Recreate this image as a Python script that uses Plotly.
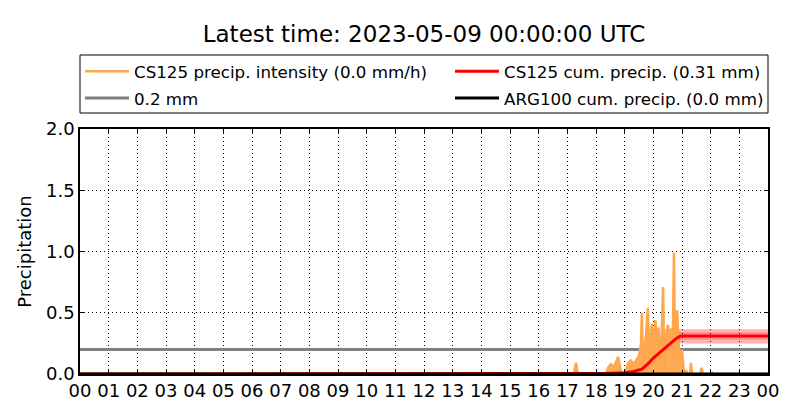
import plotly.graph_objects as go

# Orange: CS125 precipitation intensity (hours of day, mm/h)
int_hours = [0, 17.23, 17.30, 17.37, 18.35, 18.42, 18.52, 18.63, 18.77, 18.87, 19.01, 19.12, 19.22, 19.32,
             19.43, 19.50, 19.57, 19.60, 19.64, 19.67, 19.74, 19.81, 19.85, 19.88, 19.95, 20.0, 20.02, 20.07,
             20.13, 20.18, 20.23, 20.28, 20.34, 20.38, 20.41, 20.46, 20.51, 20.56, 20.62, 20.67, 20.72,
             20.76, 20.79, 20.83, 20.88, 20.93, 21.00, 21.07, 21.14, 21.21, 21.28, 21.31, 21.35, 21.63,
             21.68, 21.73, 22.01, 22.05, 22.08, 24]
int_values = [0, 0, 0.09, 0, 0, 0.05, 0.08, 0.06, 0.14, 0.02, 0, 0.09, 0.11, 0.08,
              0.12, 0.15, 0.25, 0.50, 0.05, 0.18, 0.30, 0.54, 0.10, 0.25, 0.41, 0.06, 0.20, 0.44,
              0.30, 0.38, 0.08, 0.25, 0.71, 0.05, 0.20, 0.35, 0.40, 0.30, 0.37, 0.15, 0.99,
              0.10, 0.30, 0.52, 0.25, 0.10, 0.20, 0.0, 0.03, 0, 0, 0.09, 0, 0,
              0.05, 0, 0, 0.01, 0, 0]

# Red: CS125 cumulative precipitation (mm)
cum_hours = [0, 17.0, 18.3, 19.0, 19.3, 19.6, 19.8, 20.0, 20.2, 20.4, 20.6, 20.8, 20.95, 24]
cum_values = [0, 0, 0.005, 0.01, 0.02, 0.04, 0.08, 0.13, 0.17, 0.21, 0.25, 0.29, 0.31, 0.31]

# Uncertainty band for cumulative precip
band_hours = [20.9, 24]
band_outer_low = [0.25, 0.25]
band_outer_high = [0.365, 0.365]
band_inner_low = [0.28, 0.28]
band_inner_high = [0.34, 0.34]

# Black: ARG100 cumulative precipitation
arg_hours = [0, 24]
arg_values = [0, 0]

# Gray: 0.2 mm reference
ref_hours = [0, 24]
ref_values = [0.2, 0.2]

tick_vals = list(range(25))
tick_text = ["%02d" % (h % 24) for h in range(25)]

FONT = "DejaVu Sans"
W, H = 792, 412          # page body has an 8px margin
ML, MR, MT, MB = 72, 32, 121, 46
PLOT_H = H - MT - MB
PLOT_W = W - ML - MR
ORANGE = "#ffa64d"

fig = go.Figure()

fig.add_trace(go.Scatter(x=ref_hours, y=ref_values, mode="lines",
                         line=dict(color="#808080", width=3),
                         name="0.2 mm", legend="legend", legendgroup="g2"))

fig.add_trace(go.Scatter(x=int_hours, y=int_values, mode="lines",
                         line=dict(color=ORANGE, width=0),
                         fill="tozeroy", fillcolor="rgba(255,166,77,0.95)",
                         showlegend=False, hoverinfo="skip"))
fig.add_trace(go.Scatter(x=int_hours, y=int_values, mode="lines",
                         line=dict(color=ORANGE, width=2.5),
                         name="CS125 precip. intensity (0.0 mm/h)", legend="legend",
                         legendgroup="g1", legendrank=1))

for lo, hi, op in [(band_outer_low, band_outer_high, 0.3), (band_inner_low, band_inner_high, 0.2)]:
    fig.add_trace(go.Scatter(x=band_hours, y=lo, mode="lines", line=dict(width=0),
                             showlegend=False, hoverinfo="skip"))
    fig.add_trace(go.Scatter(x=band_hours, y=hi, mode="lines", line=dict(width=0),
                             fill="tonexty", fillcolor="rgba(255,0,0,%s)" % op,
                             showlegend=False, hoverinfo="skip"))

fig.add_trace(go.Scatter(x=cum_hours, y=cum_values, mode="lines",
                         line=dict(color="#ff0000", width=3),
                         name="CS125 cum. precip. (0.31 mm)", legend="legend2",
                         legendgroup="g3", legendrank=1))

fig.add_trace(go.Scatter(x=arg_hours, y=arg_values, mode="lines",
                         line=dict(color="#000000", width=3),
                         name="ARG100 cum. precip. (0.0 mm)", legend="legend2",
                         legendgroup="g4", legendrank=2))

# legend frame (page y 55..113 -> figure y 47..105)
leg_top = (H - MB - 47) / PLOT_H
leg_bot = (H - MB - 105) / PLOT_H
fig.add_shape(type="rect", xref="paper", yref="paper", x0=0, x1=1, y0=leg_bot, y1=leg_top,
              line=dict(color="black", width=1), fillcolor="rgba(0,0,0,0)", layer="above")

leg_common = dict(orientation="v", yanchor="top", y=leg_top + 1 / PLOT_H,
                  itemwidth=44, borderwidth=0, bgcolor="rgba(0,0,0,0)",
                  traceorder="grouped", tracegroupgap=2,
                  font=dict(family=FONT, size=16.7))

fig.update_layout(
    width=W, height=H,
    margin=dict(l=ML, r=MR, t=MT, b=MB, autoexpand=False),
    paper_bgcolor="white", plot_bgcolor="white",
    font=dict(family=FONT, size=18, color="black"),
    title=dict(text="Latest time: 2023-05-09 00:00:00 UTC", x=0.5, xref="paper",
               xanchor="center", y=1 - 26 / H, yanchor="middle",
               font=dict(family=FONT, size=23, color="black")),
    legend=dict(x=0, xanchor="left", **leg_common),
    legend2=dict(x=(450 - 80) / PLOT_W, xanchor="left", **leg_common),
    showlegend=True,
)

GRID_DASH = "1px,3px"

fig.update_xaxes(range=[0, 24], tickmode="array", tickvals=tick_vals, ticktext=tick_text,
                 showgrid=True, gridcolor="black", griddash=GRID_DASH, gridwidth=1,
                 showline=True, linecolor="black", linewidth=1.5, mirror="ticks",
                 ticks="inside", ticklen=4, tickcolor="black", automargin=False,
                 tickfont=dict(family=FONT, size=18), zeroline=False, fixedrange=True)

fig.update_yaxes(range=[0, 2], tickmode="array", tickvals=[0, 0.5, 1.0, 1.5, 2.0],
                 ticktext=["0.0", "0.5", "1.0", "1.5", "2.0"],
                 showgrid=True, gridcolor="black", griddash=GRID_DASH, gridwidth=1,
                 showline=True, linecolor="black", linewidth=1.5, mirror="ticks",
                 ticks="inside", ticklen=4, tickcolor="black", automargin=False,
                 tickfont=dict(family=FONT, size=18), zeroline=False,
                 title=dict(text="Precipitation", font=dict(family=FONT, size=18), standoff=10),
                 fixedrange=True)

fig.write_html("out.html")
